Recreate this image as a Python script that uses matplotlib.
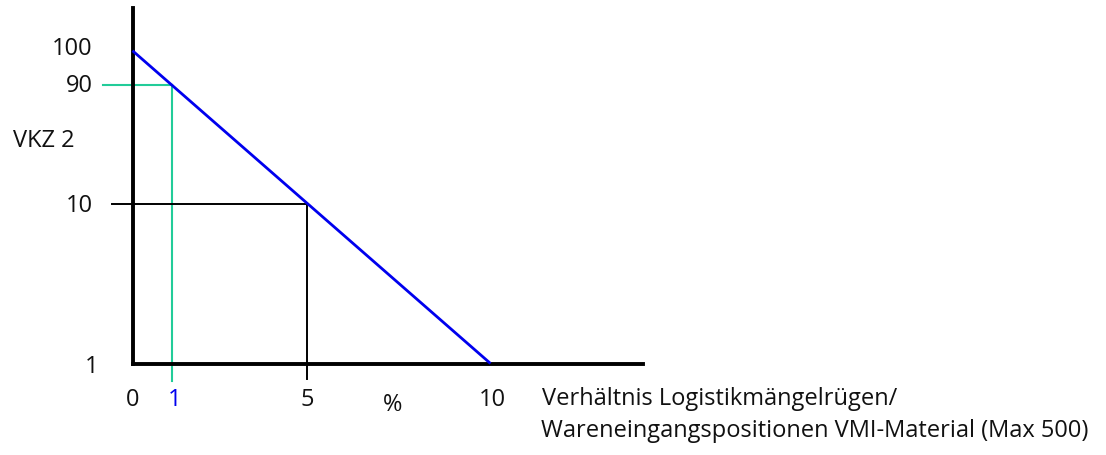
import numpy as np
import matplotlib
matplotlib.use("Agg")
import matplotlib.pyplot as plt

# ---------------- data ----------------
x_values = [0, 1, 5, 10]            # x tick values (% ratio)
x_labels = ["0", "1", "5", "10"]
y_values = [1, 10, 90, 100]         # y tick values (VKZ 2 points)
y_labels = ["1", "10", "90", "100"]
line_x = [0, 10]                    # rating line: 0 % -> 100, 10 % -> 1
line_y = [100, 1]
guide_green = (1, 90)               # example reading: 1 % -> 90
guide_black = (5, 10)               # example reading: 5 % -> 10
y_title = "VKZ 2"
x_unit = "%"
x_title_1 = "Verhältnis Logistikmängelrügen/"
x_title_2 = "Wareneingangspositionen VMI-Material (Max 500)"

# ---------------- layout (schematic, non-uniform axes) ----------------
W, H = 1106, 456
x_px = [132.5, 172, 307, 490.5]          # pixel positions of x_values
y_px = [H - 364.5, H - 204.5, H - 85.5, H - 51.7]  # pixel (from bottom) of y_values


def piecewise(src, dst):
    src = np.asarray(src, float)
    dst = np.asarray(dst, float)
    lo = (dst[1] - dst[0]) / (src[1] - src[0])
    hi = (dst[-1] - dst[-2]) / (src[-1] - src[-2])

    def f(v):
        v = np.asarray(v, float)
        out = np.interp(v, src, dst)
        out = np.where(v < src[0], dst[0] + (v - src[0]) * lo, out)
        out = np.where(v > src[-1], dst[-1] + (v - src[-1]) * hi, out)
        return out
    return f


fx, ix = piecewise(x_values, x_px), piecewise(x_px, x_values)
fy, iy = piecewise(y_values, y_px), piecewise(y_px, y_values)

plt.rcParams['font.family'] = ['Open Sans', 'DejaVu Sans']
FS = 17

fig = plt.figure(figsize=(W / 100, H / 100), dpi=100)
ax = fig.add_axes([0, 0, 1, 1])
ax.set_xscale('function', functions=(fx, ix))
ax.set_yscale('function', functions=(fy, iy))

# rating line
ax.plot(line_x, line_y, color='#0000ee', lw=2.0, solid_capstyle='butt', zorder=3)

# guides (extend slightly beyond the axes, as in the sketch)
gx, gy = guide_green
ax.plot([float(ix(103)), gx], [gy, gy], color='#22cc99', lw=1.5, zorder=2)
ax.plot([gx, gx], [gy, float(iy(H - 382))], color='#22cc99', lw=1.5, zorder=2)
bx, by = guide_black
ax.plot([float(ix(112)), bx], [by, by], color='black', lw=1.4, zorder=2)
ax.plot([bx, bx], [by, float(iy(H - 380))], color='black', lw=1.4, zorder=2)

ax.set_xlim(float(ix(0)), float(ix(W)))
ax.set_ylim(float(iy(0)), float(iy(H)))

# axes
for s in ['top', 'right']:
    ax.spines[s].set_visible(False)
ax.spines['left'].set_position(('data', 0))
ax.spines['bottom'].set_position(('data', 1))
ax.spines['left'].set_bounds(1, float(iy(H - 9)))
ax.spines['bottom'].set_bounds(0, float(ix(643)))
for s in ['left', 'bottom']:
    ax.spines[s].set_linewidth(2.8)
    ax.spines[s].set_capstyle('projecting')
ax.set_xticks([])
ax.set_yticks([])
ax.patch.set_alpha(0)

# y tick labels
y_dx = {"1": -34.5, "10": -39.5, "90": -39.5, "100": -40.5}
y_dy = {"1": -8.5, "10": -7.5, "90": -6.5, "100": -3.3}
for v, lab in zip(y_values, y_labels):
    ax.annotate(lab, xy=(0, v), xytext=(y_dx[lab], y_dy[lab]), textcoords='offset pixels',
                ha='right', va='baseline', fontsize=FS, color='#111111')

# x tick labels
x_dx = {"0": 0, "1": 2.5, "5": 0, "10": 1.5}
for v, lab in zip(x_values, x_labels):
    ax.annotate(lab, xy=(v, 1), xytext=(x_dx[lab], -41.5), textcoords='offset pixels',
                ha='center', va='baseline', fontsize=FS,
                color='#0000ee' if lab == "1" else '#111111')

# unit and titles
ax.text(float(ix(393)), float(iy(H - 411)), x_unit, ha='center', va='baseline', fontsize=FS, color='#111111')
ax.text(float(ix(12.7)), float(iy(H - 147)), y_title, ha='left', va='baseline', fontsize=FS, color='#111111')
ax.text(float(ix(542)), float(iy(H - 405)), x_title_1, ha='left', va='baseline', fontsize=FS, color='#111111')
ax.text(float(ix(541)), float(iy(H - 437)), x_title_2, ha='left', va='baseline', fontsize=FS, color='#111111')

fig.savefig('out.png', dpi=100)
